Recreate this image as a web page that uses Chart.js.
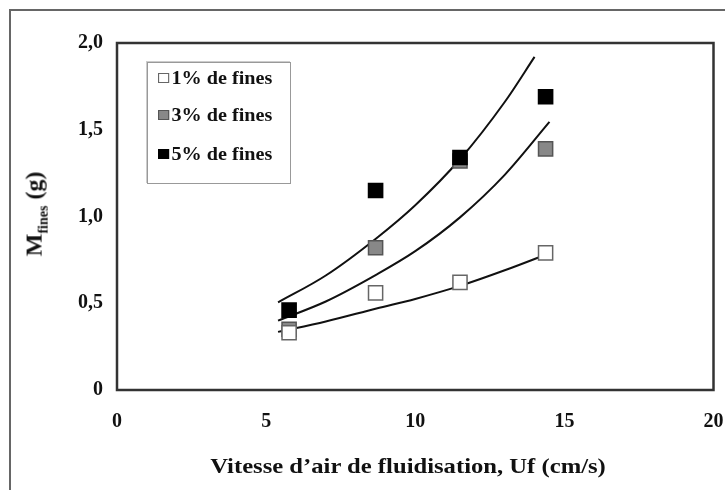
<!DOCTYPE html>
<html>
<head>
<meta charset="utf-8">
<script src="https://cdn.jsdelivr.net/npm/chart.js@4.4.0/dist/chart.umd.min.js"></script>
<style>
  html, body { margin: 0; padding: 0; background: #fff; }
  #wrap { position: relative; width: 725px; height: 490px; overflow: hidden; }
  #frame { position: absolute; left: 9px; top: 9px; width: 740px; height: 500px;
           border-left: 2px solid #666; border-top: 2px solid #666; }
  canvas { position: absolute; left: 0; top: 0; }
  .serif { font-family: "Liberation Serif", "DejaVu Serif", serif; font-weight: bold; color: #111; }
  #ytitle { position: absolute; left: 36px; top: 214px; transform: translate(-50%, -50%) rotate(-90deg);
            white-space: nowrap; font-size: 24px; }
  #ytitle sub { font-size: 14px; }
  #legend { position: absolute; left: 147px; top: 62px; width: 142px; height: 120px;
            border: 1px solid #999; box-shadow: -1px -1px 0 #ccc; background: #fff; }
  .item { position: absolute; left: 10px; font-size: 18px; white-space: nowrap; line-height: 20px;
          transform: scaleX(1.12); transform-origin: left center; }
  .sw { display: inline-block; width: 10px; height: 10px; margin-right: 2px; box-sizing: border-box; vertical-align: 1px; }
</style>
</head>
<body>
<div id="wrap">
  <div id="frame"></div>
  <canvas id="c" width="725" height="490"></canvas>
  <div id="ytitle" class="serif">M<sub>fines</sub> (g)</div>
  <div id="legend" class="serif">
    <div class="item" style="top:5px"><span class="sw" style="background:#fff;border:1px solid #666"></span>1% de fines</div>
    <div class="item" style="top:42px"><span class="sw" style="background:#888;border:1px solid #555"></span>3% de fines</div>
    <div class="item" style="top:81px"><span class="sw" style="background:#000"></span>5% de fines</div>
  </div>
  <div class="serif" style="position:absolute;left:408px;top:466px;transform:translate(-50%,-50%) scaleX(1.12);font-size:22px;white-space:nowrap;">Vitesse d’air de fluidisation, Uf (cm/s)</div>
</div>
<script>
const vitesse = [5.77, 8.67, 11.5, 14.37];
const fines1 = [0.33, 0.56, 0.62, 0.79];
const fines3 = [0.35, 0.82, 1.32, 1.39];
const fines5 = [0.46, 1.15, 1.34, 1.69];

// Courbes de tendance
const courbeX1 = [5.4, 7.0, 8.7, 10.0, 11.5, 13.0, 14.6];
const courbeY1 = [0.335, 0.395, 0.47, 0.525, 0.60, 0.69, 0.795];
const courbeX3 = [5.4, 7.0, 8.7, 10.0, 11.5, 13.0, 14.5];
const courbeY3 = [0.40, 0.51, 0.665, 0.80, 0.995, 1.24, 1.545];
const courbeX5 = [5.4, 7.0, 8.7, 10.0, 11.5, 13.0, 14.0];
const courbeY5 = [0.505, 0.66, 0.875, 1.065, 1.33, 1.66, 1.92];

const ticksX = [0, 5, 10, 15, 20];
const ticksY = [0, 0.5, 1.0, 1.5, 2.0];

const pts = (xs, ys) => xs.map((x, i) => ({ x: x, y: ys[i] }));

const police = { family: '"Liberation Serif", "DejaVu Serif", serif', weight: 'bold', size: 20 };

function courbe(xs, ys) {
  return {
    type: 'line', data: pts(xs, ys), borderColor: '#111', borderWidth: 2,
    pointRadius: 0, fill: false, cubicInterpolationMode: 'monotone', order: 10
  };
}

function serie(ys, fond, bord, ordre) {
  return {
    type: 'scatter', data: pts(vitesse, ys), pointStyle: 'rect', pointRadius: 10,
    backgroundColor: fond, borderColor: bord, borderWidth: 1.5, order: ordre
  };
}

// Cadre complet autour de la zone de tracé
const cadre = {
  id: 'cadre',
  afterDatasetsDraw(chart) {
    const a = chart.chartArea, ctx = chart.ctx;
    ctx.save();
    ctx.strokeStyle = '#333';
    ctx.lineWidth = 2.5;
    ctx.strokeRect(a.left, a.top, a.right - a.left, a.bottom - a.top);
    ctx.restore();
  }
};

new Chart(document.getElementById('c'), {
  data: {
    datasets: [
      courbe(courbeX1, courbeY1),
      courbe(courbeX3, courbeY3),
      courbe(courbeX5, courbeY5),
      serie(fines1, '#fff', '#666', 2),
      serie(fines3, '#888', '#555', 3),
      serie(fines5, '#000', '#000', 1)
    ]
  },
  options: {
    responsive: false,
    animation: false,
    layout: { padding: { left: 0, top: 43, right: 10, bottom: 0 } },
    plugins: { legend: { display: false }, tooltip: { enabled: false } },
    scales: {
      x: {
        type: 'linear', min: 0, max: 20,
        afterBuildTicks: s => { s.ticks = ticksX.map(v => ({ value: v })); },
        afterFit: s => { s.height = 100; s.paddingLeft = 0; s.paddingRight = 0; },
        grid: { display: false, drawTicks: false },
        border: { display: false },
        ticks: { padding: 20, color: '#111', font: police, callback: v => String(v) }
      },
      y: {
        type: 'linear', min: 0, max: 2,
        afterBuildTicks: s => { s.ticks = ticksY.map(v => ({ value: v })); },
        afterFit: s => { s.width = 117; s.paddingTop = 0; s.paddingBottom = 0; },
        grid: { display: false, drawTicks: false },
        border: { display: false },
        ticks: { padding: 14, color: '#111', font: police,
                 callback: v => v === 0 ? '0' : v.toFixed(1).replace('.', ',') }
      }
    }
  },
  plugins: [cadre]
});
</script>
</body>
</html>
